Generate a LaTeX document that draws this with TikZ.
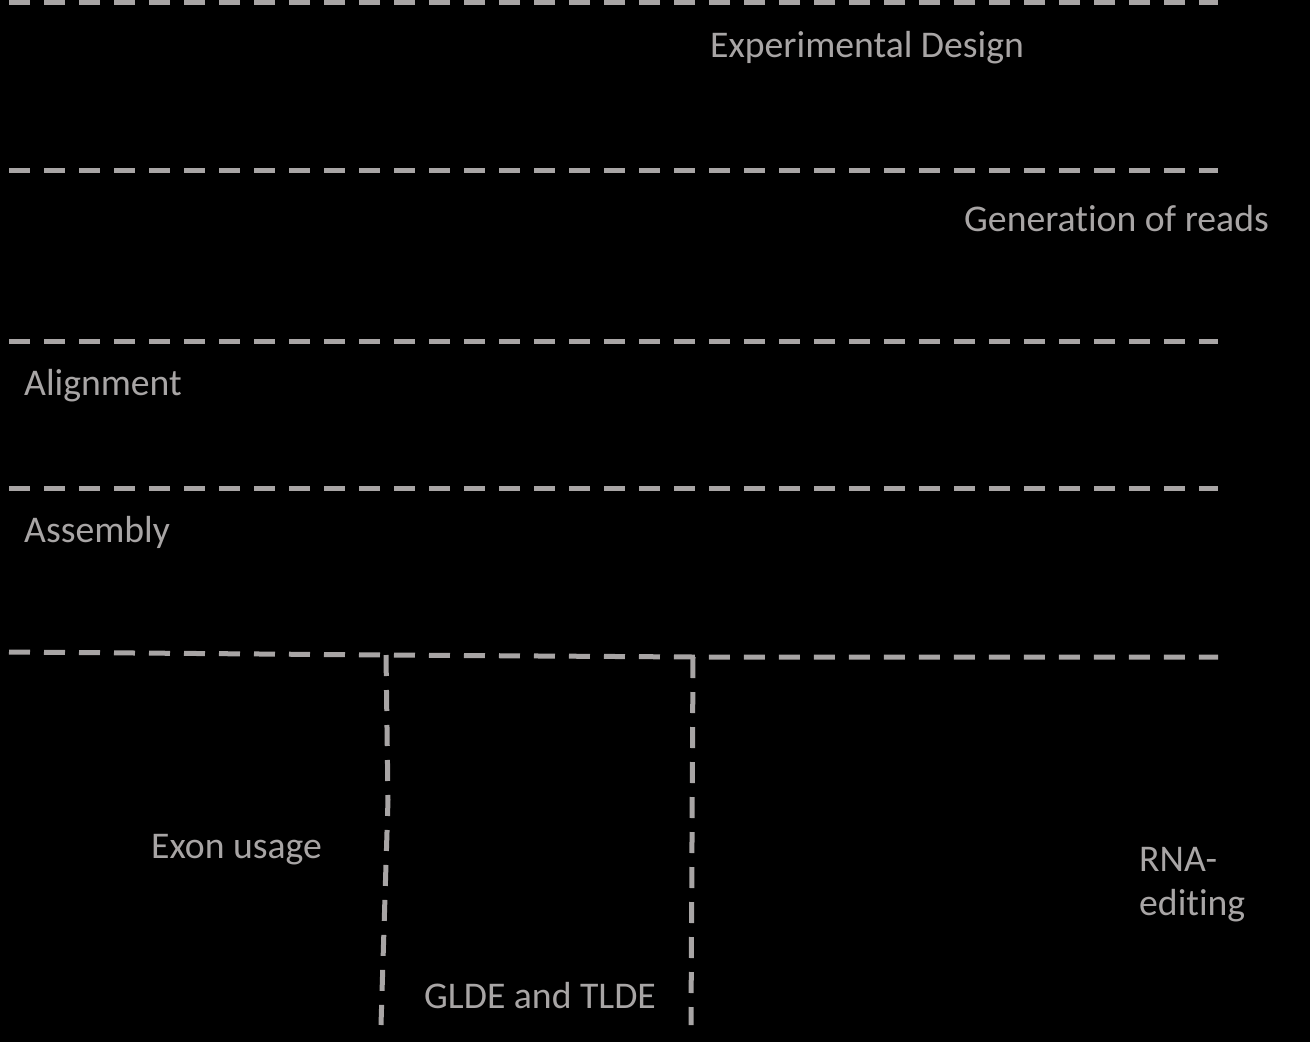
\documentclass[tikz,border=0pt]{standalone}
\usepackage{fontspec}
\setmainfont[Ligatures=NoCommon]{Carlito}
\definecolor{linegray}{RGB}{168,165,165}
\begin{document}
\begin{tikzpicture}[x=1pt,y=-1pt,
  sep/.style={draw=linegray,line width=5pt,dash pattern=on 21pt off 14pt},
  lbl/.style={text=linegray,font=\fontsize{37.7}{44}\selectfont,anchor=base west,inner sep=0pt}]
\fill[black] (0,0) rectangle (1310,1042);
\useasboundingbox (0,0) rectangle (1310,1042);
% horizontal separators
\draw[sep] (9,2) -- (1218,2);
\draw[sep] (9,170) -- (1218,170);
\draw[sep] (9,341) -- (1218,341);
\draw[sep] (9,488) -- (1218,488);
% bottom split
\coordinate (bl) at (9,652);
\coordinate (c1) at (386,655);
\coordinate (c2) at (693,657);
\coordinate (br) at (1218,657);
\coordinate (d1) at (381,1025);
\coordinate (d2) at (691,1025);
\draw[sep] (bl) -- (c1) -- (c2) -- (br);
\draw[sep] (c1) -- (388,800) -- (d1);
\draw[sep] (c2) -- (d2);
% labels
\node[lbl] (exp) at (710,57) {Experimental Design};
\node[lbl] (gen) at (964,231) {Generation of reads};
\node[lbl] (ali) at (24,395) {Alignment};
\node[lbl] (ass) at (24,542) {Assembly};
\node[lbl] (exon) at (151,858) {Exon usage};
\node[lbl,align=left,anchor=north west] (rna) at (1139,847) {RNA-\\editing};
\node[lbl] (glde) at (424,1008) {GLDE and TLDE};
\end{tikzpicture}
\end{document}
